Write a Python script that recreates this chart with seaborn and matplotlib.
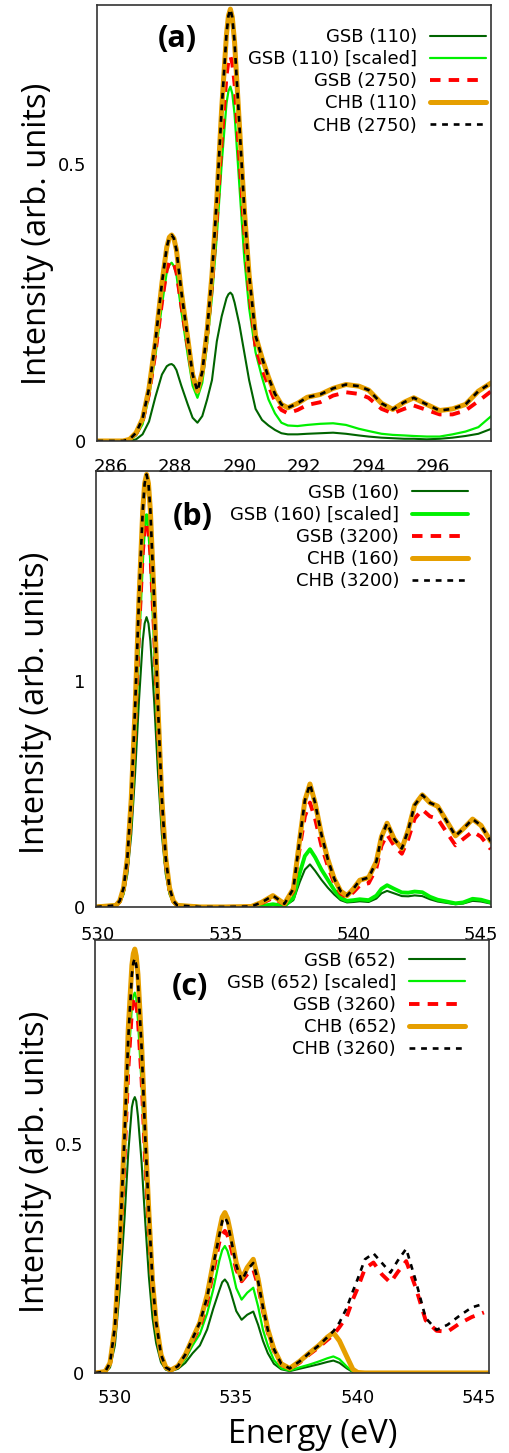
import matplotlib
matplotlib.use("Agg")
import matplotlib.pyplot as plt
import seaborn as sns
import pandas as pd

# ---------------- panel (a): C K-edge ----------------
energy_a = [285.6, 286.0, 286.4, 286.6, 286.8, 287.0, 287.2, 287.4, 287.6, 287.75,
            287.83, 287.9, 287.97, 288.05, 288.2, 288.4, 288.55, 288.7, 288.85, 289.0,
            289.15, 289.3, 289.45, 289.6, 289.66, 289.72, 289.78, 289.85, 290.0, 290.15,
            290.3, 290.5, 290.7, 290.9, 291.1, 291.3, 291.5, 291.8, 292.1, 292.5,
            292.9, 293.3, 293.7, 294.0, 294.4, 294.75, 295.1, 295.4, 295.8, 296.2,
            296.6, 297.0, 297.4, 297.8]
gsb_small_a = [0, 0, 0, 0, 0.003, 0.012, 0.035, 0.08, 0.12, 0.135,
               0.138, 0.139, 0.136, 0.128, 0.1, 0.066, 0.042, 0.033, 0.045, 0.075,
               0.11, 0.18, 0.225, 0.258, 0.265, 0.268, 0.264, 0.25, 0.21, 0.16,
               0.11, 0.058, 0.038, 0.028, 0.02, 0.014, 0.012, 0.012, 0.013, 0.014,
               0.015, 0.013, 0.01, 0.008, 0.006, 0.005, 0.004, 0.004, 0.003, 0.004,
               0.006, 0.009, 0.013, 0.022]
gsb_scaled_a = [0, 0, 0, 0.002, 0.01, 0.03, 0.08, 0.155, 0.245, 0.305,
                0.318, 0.322, 0.316, 0.3, 0.235, 0.155, 0.1, 0.078, 0.105, 0.175,
                0.26, 0.37, 0.5, 0.61, 0.632, 0.64, 0.627, 0.59, 0.46, 0.33,
                0.24, 0.16, 0.115, 0.075, 0.05, 0.033, 0.028, 0.027, 0.029, 0.031,
                0.032, 0.029, 0.022, 0.018, 0.013, 0.011, 0.01, 0.009, 0.008, 0.008,
                0.012, 0.017, 0.025, 0.045]
gsb_large_a = [0, 0, 0, 0.003, 0.013, 0.035, 0.085, 0.16, 0.25, 0.31,
               0.322, 0.325, 0.32, 0.305, 0.245, 0.17, 0.115, 0.09, 0.12, 0.19,
               0.28, 0.4, 0.54, 0.66, 0.686, 0.695, 0.682, 0.645, 0.51, 0.38,
               0.27, 0.17, 0.13, 0.1, 0.072, 0.056, 0.05, 0.056, 0.065, 0.07,
               0.082, 0.088, 0.085, 0.078, 0.058, 0.05, 0.058, 0.064, 0.056, 0.048,
               0.048, 0.055, 0.072, 0.09]
chb_small_a = [0, 0, 0, 0.003, 0.015, 0.04, 0.095, 0.18, 0.285, 0.35,
               0.368, 0.372, 0.366, 0.345, 0.27, 0.185, 0.12, 0.09, 0.125, 0.2,
               0.3, 0.437, 0.6, 0.735, 0.768, 0.78, 0.765, 0.72, 0.57, 0.42,
               0.3, 0.19, 0.15, 0.115, 0.085, 0.066, 0.06, 0.068, 0.079, 0.084,
               0.095, 0.102, 0.099, 0.092, 0.068, 0.057, 0.07, 0.078, 0.066, 0.055,
               0.058, 0.066, 0.09, 0.105]
chb_large_a = [0, 0, 0, 0.003, 0.015, 0.04, 0.095, 0.18, 0.285, 0.35,
               0.368, 0.372, 0.366, 0.345, 0.27, 0.185, 0.12, 0.09, 0.125, 0.2,
               0.3, 0.437, 0.6, 0.735, 0.768, 0.78, 0.765, 0.72, 0.57, 0.42,
               0.3, 0.19, 0.15, 0.115, 0.085, 0.066, 0.06, 0.068, 0.079, 0.084,
               0.095, 0.102, 0.099, 0.092, 0.068, 0.057, 0.07, 0.078, 0.066, 0.055,
               0.058, 0.066, 0.09, 0.105]
labels_a = ["GSB (110)", "GSB (110) [scaled]", "GSB (2750)", "CHB (110)", "CHB (2750)"]
xticks_a = [286, 288, 290, 292, 294, 296]
yticks_a = [0, 0.5]
yticklabels_a = ["0", "0.5"]

# ---------------- panel (b): O K-edge ----------------
energy_b = [529.92, 530.7, 530.85, 531.0, 531.15, 531.3, 531.45, 531.6, 531.75, 531.825,
            531.9, 531.975, 532.05, 532.2, 532.35, 532.5, 532.65, 532.8, 532.95, 533.1,
            534.0, 535.0, 536.0, 536.4, 536.85, 537.3, 537.65, 537.9, 538.1, 538.3,
            538.5, 538.75, 539.0, 539.25, 539.5, 539.75, 540.0, 540.25, 540.6, 540.9,
            541.1, 541.32, 541.6, 541.9, 542.15, 542.4, 542.7, 543.0, 543.3, 543.65,
            544.0, 544.3, 544.67, 545.0, 545.38]
gsb_small_b = [0, 0.005, 0.018, 0.056, 0.146, 0.319, 0.586, 0.905, 1.174, 1.252,
               1.28, 1.252, 1.174, 0.905, 0.586, 0.319, 0.146, 0.056, 0.018, 0.005,
               0, 0, 0, 0.003, 0.009, 0.003, 0.03, 0.11, 0.165, 0.188,
               0.16, 0.12, 0.085, 0.055, 0.03, 0.02, 0.022, 0.025, 0.022, 0.037,
               0.06, 0.071, 0.06, 0.048, 0.047, 0.051, 0.048, 0.034, 0.024, 0.018,
               0.012, 0.015, 0.027, 0.024, 0.015]
gsb_scaled_b = [0, 0.007, 0.025, 0.076, 0.197, 0.431, 0.792, 1.223, 1.586, 1.693,
                1.73, 1.693, 1.586, 1.223, 0.792, 0.431, 0.197, 0.076, 0.025, 0.007,
                0, 0, 0, 0.004, 0.012, 0.004, 0.04, 0.15, 0.225, 0.255,
                0.22, 0.165, 0.12, 0.075, 0.04, 0.027, 0.03, 0.034, 0.03, 0.05,
                0.08, 0.096, 0.08, 0.064, 0.063, 0.068, 0.065, 0.045, 0.032, 0.024,
                0.016, 0.02, 0.036, 0.032, 0.02]
gsb_large_b = [0, 0.007, 0.024, 0.075, 0.194, 0.423, 0.779, 1.2, 1.56, 1.663,
               1.70, 1.663, 1.56, 1.2, 0.779, 0.423, 0.194, 0.075, 0.024, 0.007,
               0, 0, 0.002, 0.016, 0.04, 0.012, 0.07, 0.26, 0.4, 0.461,
               0.39, 0.27, 0.18, 0.105, 0.06, 0.042, 0.065, 0.095, 0.105, 0.17,
               0.27, 0.32, 0.27, 0.235, 0.3, 0.39, 0.43, 0.4, 0.39, 0.33,
               0.272, 0.3, 0.333, 0.31, 0.255]
chb_small_b = [0, 0.007, 0.027, 0.084, 0.218, 0.476, 0.875, 1.35, 1.75, 1.87,
               1.91, 1.87, 1.75, 1.35, 0.875, 0.476, 0.218, 0.084, 0.027, 0.007,
               0, 0, 0.002, 0.02, 0.05, 0.014, 0.08, 0.3, 0.47, 0.543,
               0.46, 0.32, 0.21, 0.125, 0.07, 0.05, 0.08, 0.118, 0.13, 0.2,
               0.31, 0.37, 0.3, 0.258, 0.34, 0.45, 0.495, 0.46, 0.445, 0.38,
               0.314, 0.345, 0.388, 0.36, 0.29]
chb_large_b = [0, 0.007, 0.027, 0.084, 0.218, 0.476, 0.875, 1.35, 1.75, 1.87,
               1.91, 1.87, 1.75, 1.35, 0.875, 0.476, 0.218, 0.084, 0.027, 0.007,
               0, 0, 0.002, 0.02, 0.05, 0.014, 0.08, 0.3, 0.47, 0.543,
               0.46, 0.32, 0.21, 0.125, 0.07, 0.05, 0.08, 0.118, 0.13, 0.2,
               0.31, 0.37, 0.3, 0.258, 0.34, 0.45, 0.495, 0.46, 0.445, 0.38,
               0.314, 0.345, 0.388, 0.36, 0.29]
labels_b = ["GSB (160)", "GSB (160) [scaled]", "GSB (3200)", "CHB (160)", "CHB (3200)"]
xticks_b = [530, 535, 540, 545]
yticks_b = [0, 1]
yticklabels_b = ["0", "1"]

# ---------------- panel (c): O K-edge ----------------
energy_c = [529.2, 529.6, 529.8, 530.0, 530.2, 530.4, 530.55, 530.7, 530.76, 530.82,
            530.88, 530.95, 531.1, 531.25, 531.4, 531.55, 531.7, 531.9, 532.1, 532.3,
            532.6, 532.9, 533.2, 533.5, 533.8, 534.05, 534.3, 534.42, 534.53, 534.64,
            534.75, 535.0, 535.22, 535.45, 535.7, 535.9, 536.1, 536.3, 536.55, 536.85,
            537.2, 537.6, 538.0, 538.4, 538.75, 539.0, 539.25, 539.55, 539.8, 540.0,
            540.3, 540.65, 541.0, 541.35, 541.65, 542.0, 542.4, 542.8, 543.25, 543.7,
            544.2, 544.7, 545.2, 545.4]
gsb_small_c = [0, 0.001, 0.012, 0.06, 0.18, 0.34, 0.48, 0.58, 0.595, 0.602,
               0.593, 0.56, 0.46, 0.33, 0.21, 0.12, 0.065, 0.023, 0.007, 0.004,
               0.009, 0.022, 0.043, 0.06, 0.095, 0.14, 0.18, 0.198, 0.204, 0.196,
               0.18, 0.135, 0.116, 0.127, 0.134, 0.105, 0.07, 0.043, 0.02, 0.008,
               0.004, 0.009, 0.014, 0.019, 0.024, 0.027, 0.022, 0.01, 0.002, 0,
               0, 0, 0, 0, 0, 0, 0, 0, 0, 0,
               0, 0, 0, 0]
gsb_scaled_c = [0, 0.002, 0.018, 0.085, 0.25, 0.47, 0.67, 0.8, 0.822, 0.83,
                0.818, 0.77, 0.63, 0.45, 0.29, 0.165, 0.09, 0.032, 0.01, 0.005,
                0.012, 0.03, 0.06, 0.085, 0.13, 0.182, 0.245, 0.268, 0.277, 0.266,
                0.245, 0.185, 0.16, 0.175, 0.186, 0.145, 0.094, 0.06, 0.028, 0.01,
                0.005, 0.012, 0.018, 0.025, 0.032, 0.036, 0.03, 0.014, 0.003, 0,
                0, 0, 0, 0, 0, 0, 0, 0, 0, 0,
                0, 0, 0, 0]
gsb_large_c = [0, 0.003, 0.02, 0.09, 0.25, 0.47, 0.66, 0.79, 0.812, 0.82,
               0.808, 0.77, 0.64, 0.46, 0.31, 0.18, 0.1, 0.036, 0.011, 0.006,
               0.014, 0.037, 0.07, 0.1, 0.155, 0.22, 0.285, 0.302, 0.31, 0.3,
               0.28, 0.225, 0.2, 0.215, 0.226, 0.19, 0.135, 0.088, 0.048, 0.018,
               0.009, 0.022, 0.04, 0.056, 0.072, 0.083, 0.1, 0.123, 0.16, 0.185,
               0.228, 0.241, 0.215, 0.197, 0.22, 0.244, 0.185, 0.115, 0.092, 0.09,
               0.108, 0.122, 0.132]
chb_small_c = [0, 0.003, 0.022, 0.1, 0.28, 0.53, 0.75, 0.89, 0.915, 0.925,
               0.91, 0.87, 0.72, 0.52, 0.35, 0.2, 0.11, 0.04, 0.012, 0.006,
               0.015, 0.04, 0.075, 0.11, 0.17, 0.24, 0.31, 0.34, 0.35, 0.337,
               0.31, 0.24, 0.205, 0.23, 0.248, 0.205, 0.145, 0.095, 0.052, 0.02,
               0.01, 0.025, 0.043, 0.06, 0.078, 0.088, 0.07, 0.036, 0.008, 0.001,
               0, 0, 0, 0, 0, 0, 0, 0, 0, 0,
               0, 0, 0, 0]
chb_large_c = [0, 0.003, 0.022, 0.1, 0.28, 0.52, 0.73, 0.87, 0.895, 0.905,
               0.89, 0.855, 0.71, 0.515, 0.35, 0.2, 0.11, 0.04, 0.012, 0.006,
               0.015, 0.04, 0.075, 0.11, 0.165, 0.235, 0.3, 0.331, 0.34, 0.328,
               0.3, 0.235, 0.2, 0.225, 0.24, 0.2, 0.143, 0.094, 0.052, 0.02,
               0.01, 0.025, 0.043, 0.06, 0.078, 0.091, 0.11, 0.142, 0.178, 0.205,
               0.248, 0.261, 0.24, 0.219, 0.245, 0.271, 0.2, 0.12, 0.094, 0.105,
               0.125, 0.143, 0.151]
labels_c = ["GSB (652)", "GSB (652) [scaled]", "GSB (3260)", "CHB (652)", "CHB (3260)"]
xticks_c = [530, 535, 540, 545]
yticks_c = [0, 0.5]
yticklabels_c = ["0", "0.5"]

# ---------------- styling ----------------
sns.set_style("white")
plt.rcParams["font.family"] = ["DejaVu Sans"]
plt.rcParams["text.color"] = "black"
plt.rcParams["axes.labelcolor"] = "black"
plt.rcParams["xtick.color"] = "black"
plt.rcParams["ytick.color"] = "black"
plt.rcParams["lines.solid_joinstyle"] = "round"
plt.rcParams["lines.dash_joinstyle"] = "round"
LABEL_FONT = ["Open Sans", "DejaVu Sans"]

fig = plt.figure(figsize=(5.09, 14.53), dpi=100)
ax_a = fig.add_axes([0.1906, 0.6965, 0.7740, 0.2999])
ax_b = fig.add_axes([0.1886, 0.3758, 0.7760, 0.3000])
ax_c = fig.add_axes([0.1866, 0.0551, 0.7741, 0.2980])
for _ax in (ax_a, ax_b, ax_c):
    _ax.set_facecolor("none")


def style_list(scaled_lw):
    return [
        dict(color="#006400", lw=1.5, ls="-"),
        dict(color="#00f000", lw=scaled_lw, ls="-"),
        dict(color="#ff0000", lw=2.8, ls=(0, (2.7, 2.1))),
        dict(color="#e69f00", lw=3.6, ls="-"),
        dict(color="#000000", lw=1.9, ls=(0, (2.2, 2.2))),
    ]


def draw_panel(ax, x, series, labels, scaled_lw):
    for y, lab, st in zip(series, labels, style_list(scaled_lw)):
        df = pd.DataFrame({"E": x[:len(y)], "I": y})
        sns.lineplot(data=df, x="E", y="I", ax=ax, color=st["color"],
                     linewidth=st["lw"], linestyle=st["ls"], label=lab,
                     estimator=None, sort=False)


def finish(ax, xlim, ylim, xticks, yticks, yticklabels, tag, tagpos,
           legend_anchor, ylabel_y, xpad):
    ax.set_xlim(*xlim)
    ax.set_ylim(*ylim)
    ax.set_xticks(xticks)
    ax.set_xticklabels([str(t) for t in xticks])
    ax.set_yticks(yticks)
    ax.set_yticklabels(yticklabels)
    ax.tick_params(direction="in", length=6, width=1.0, labelsize=13,
                   colors="#000000")
    ax.tick_params(axis="x", pad=xpad)
    ax.tick_params(axis="y", pad=8)
    for sp in ax.spines.values():
        sp.set_color("#333333")
        sp.set_linewidth(1.2)
    ax.set_xlabel("")
    ax.set_ylabel("Intensity (arb. units)", fontsize=23.5, family=LABEL_FONT,
                  va="center", color="black")
    ax.yaxis.set_label_coords(-0.152, ylabel_y)
    ax.text(tagpos[0], tagpos[1], tag, transform=ax.transAxes, fontsize=22,
            fontweight="bold", family=LABEL_FONT, ha="center", va="center",
            color="black")
    ax.legend(loc="upper right", bbox_to_anchor=legend_anchor, frameon=False,
              fontsize=13, markerfirst=False, handlelength=3.1,
              handletextpad=0.72, labelspacing=0.23, borderpad=0,
              borderaxespad=0)


draw_panel(ax_a, energy_a,
           [gsb_small_a, gsb_scaled_a, gsb_large_a, chb_small_a, chb_large_a],
           labels_a, 1.6)
finish(ax_a, (285.59, 297.79), (0, 0.787), xticks_a, yticks_a, yticklabels_a,
       "(a)", (0.203, 0.922), (0.987, 0.948), 0.475, 12.5)

draw_panel(ax_b, energy_b,
           [gsb_small_b, gsb_scaled_b, gsb_large_b, chb_small_b, chb_large_b],
           labels_b, 2.8)
finish(ax_b, (529.92, 545.39), (0, 1.925), xticks_b, yticks_b, yticklabels_b,
       "(b)", (0.246, 0.894), (0.942, 0.971), 0.469, 13.5)

draw_panel(ax_c, energy_c,
           [gsb_small_c, gsb_scaled_c, gsb_large_c, chb_small_c, chb_large_c],
           labels_c, 1.6)
finish(ax_c, (529.18, 545.41), (0, 0.945), xticks_c, yticks_c, yticklabels_c,
       "(c)", (0.241, 0.891), (0.939, 0.973), 0.487, 11.5)
ax_c.set_xlabel("Energy (eV)", fontsize=23.5, family=LABEL_FONT, va="center",
                color="black")
ax_c.xaxis.set_label_coords(0.553, -0.143)

fig.savefig("out.png", dpi=100)
